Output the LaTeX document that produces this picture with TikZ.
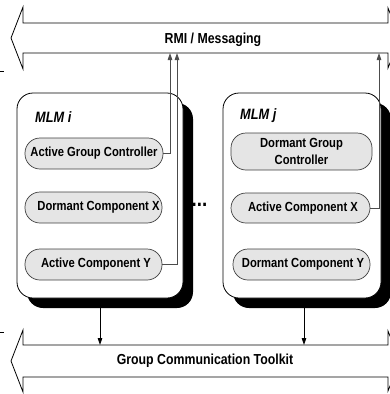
\documentclass[tikz,border=0pt]{standalone}
\usepackage{fontspec}
\setmainfont{Liberation Sans}[FakeStretch=0.85]
\usetikzlibrary{arrows.meta,shadows}
\begin{document}
\begin{tikzpicture}[x=1pt,y=-1pt,
 band/.style={draw=black,line width=0.8pt,fill=white},
 mlm/.style={draw=black,line width=0.8pt,fill=white,rounded corners=16pt,minimum height=205pt,
   drop shadow={shadow xshift=10pt,shadow yshift=-10pt,opacity=1,fill=black}},
 comp/.style={draw=black!75,line width=0.7pt,fill=black!10,rounded corners=15pt,minimum height=31pt,
   inner sep=1pt,font=\fontsize{13.2}{16.5}\selectfont\bfseries,align=center},
 mlmlabel/.style={font=\fontsize{15}{18}\selectfont\bfseries\itshape,anchor=west,inner sep=0pt},
 bandlabel/.style={font=\fontsize{14.5}{17}\selectfont\bfseries},
 link/.style={draw=black!70,line width=0.8pt,-{Triangle[length=7pt,width=4.5pt]}},
 ]
\useasboundingbox (0,0) rectangle (390,394);
\clip (0,0) rectangle (390,394);
% bands
\draw[band] (11,38) -- (23,7) -- (23,23) -- (388,23) -- (388,8) -- (400,38) -- (388,68) -- (388,53) -- (23,53) -- (23,69) -- cycle;
\node[bandlabel] (rmi) at (213,40) {RMI / Messaging};
\draw[band] (11,361) -- (23,330) -- (23,345) -- (388,345) -- (388,331) -- (400,361) -- (388,391) -- (388,377) -- (23,377) -- (23,392) -- cycle;
\node[bandlabel] (gct) at (205,361) {Group Communication Toolkit};
\draw[line width=0.6pt] (0,71) -- (4,71);
\draw[line width=0.6pt] (0,332) -- (4,332);
% MLM boxes
\node[mlm,minimum width=166pt] (mlmi) at (100,195.5) {};
\node[mlm,minimum width=158pt] (mlmj) at (302,195.5) {};
\node[mlmlabel] (labi) at (35,117) {MLM i};
\node[mlmlabel] (labj) at (240,116) {MLM j};
% components
\node[comp,minimum width=138pt] (agc) at (94,153.5) {Active Group Controller};
\node[comp,minimum width=137pt] (dcx) at (93.5,207.5) {\hspace*{10pt}Dormant Component X};
\node[comp,minimum width=137pt] (acy) at (93.5,264.5) {\hspace*{5pt}Active Component Y};
\node[comp,minimum width=141pt,minimum height=37pt] (dgc) at (301.5,151.5) {Dormant Group\\Controller};
\node[comp,minimum width=139pt,minimum height=30pt] (acx) at (300.5,208) {\hspace*{5pt}Active Component X};
\node[comp,minimum width=137pt] (dcy) at (301.5,264.5) {\hspace*{3pt}Dormant Component Y};
\node[font=\fontsize{22}{24}\selectfont\bfseries,anchor=base,inner sep=0pt] (dots) at (199.5,206) {...};
% connector end points
\coordinate (rmiA) at (170,53);
\coordinate (rmiB) at (177,53);
\coordinate (rmiC) at (379,53);
\coordinate (gctA) at (100,345);
\coordinate (gctB) at (304,345);
\draw[link] (agc.east) -| (rmiA);
\draw[link] (acy.east) -| (rmiB);
\draw[link] (acx.east) -| (rmiC);
\draw[link,draw=black] ([shift={(0,10)}]mlmi.south) -- (gctA);
\draw[link,draw=black] ([shift={(2,10)}]mlmj.south) -- (gctB);
\end{tikzpicture}
\end{document}
